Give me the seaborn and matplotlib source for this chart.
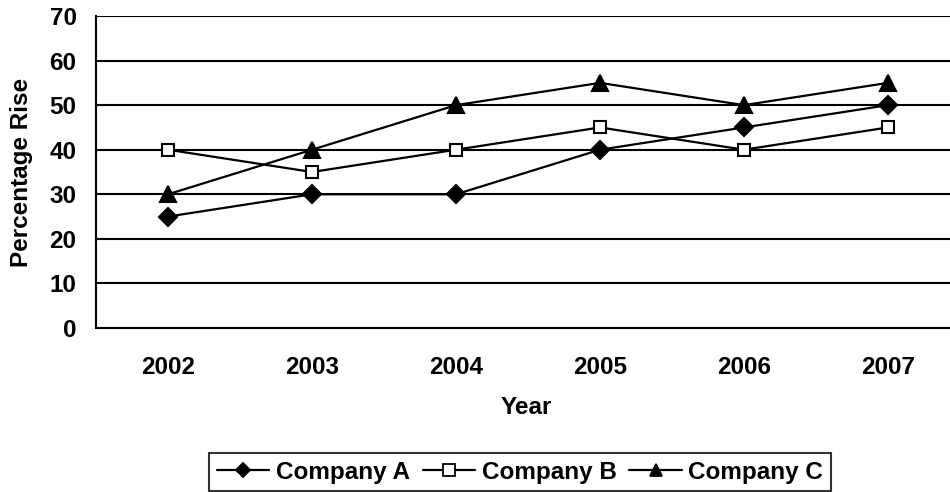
import matplotlib
matplotlib.use('Agg')
import matplotlib.pyplot as plt
import seaborn as sns
import pandas as pd

years = ['2002', '2003', '2004', '2005', '2006', '2007']
company_a = [25, 30, 30, 40, 45, 50]
company_b = [40, 35, 40, 45, 40, 45]
company_c = [30, 40, 50, 55, 50, 55]
series_names = ['Company A', 'Company B', 'Company C']

sns.set_theme(style='white')
plt.rcParams['font.family'] = ['Liberation Sans', 'DejaVu Sans']
plt.rcParams['font.weight'] = 'bold'
plt.rcParams['text.color'] = 'black'
plt.rcParams['axes.labelcolor'] = 'black'
plt.rcParams['xtick.color'] = 'black'
plt.rcParams['ytick.color'] = 'black'
FS = 17.5

df = pd.DataFrame({
    'Year': years * 3,
    'Percentage Rise': company_a + company_b + company_c,
    'Company': [n for n in series_names for _ in years],
})
df['x'] = [i for _ in series_names for i in range(len(years))]

fig = plt.figure(figsize=(9.5, 4.92), dpi=100)
ax = fig.add_axes([96 / 950, 1 - 328 / 492, 864 / 950, 312 / 492])

sns.lineplot(data=df, x='x', y='Percentage Rise', hue='Company', style='Company',
             palette=['black'] * 3, markers=['D', 's', '^'], dashes=False,
             linewidth=1.6, markeredgecolor='black', markeredgewidth=1.5,
             ax=ax, legend=False)

# marker faces / sizes per company
for line, fc, ms in zip(ax.lines, ['black', 'white', 'black'], [9, 9, 11]):
    line.set_markerfacecolor(fc)
    line.set_markersize(ms)

ax.set_ylim(0, 70)
ax.set_yticks(range(0, 71, 10))
ax.set_xlim(-0.5, len(years) - 0.5)
ax.set_xticks([i - 0.5 for i in range(len(years) + 1)])
ax.set_xticklabels([])
ax.set_xticks(range(len(years)), minor=True)
ax.set_xticklabels(years, minor=True)
ax.tick_params(axis='x', which='major', length=7, width=1.5, direction='out', color='black')
ax.tick_params(axis='x', which='minor', length=0, pad=20, labelsize=FS, labelcolor='black')
ax.tick_params(axis='y', length=8, width=1.5, direction='out', color='black', labelsize=FS,
               pad=6, labelcolor='black')
ax.yaxis.grid(True, color='black', linewidth=1.5)
ax.set_axisbelow(True)

for side in ['top', 'right']:
    ax.spines[side].set_visible(False)
for side in ['left', 'bottom']:
    ax.spines[side].set_color('black')
    ax.spines[side].set_linewidth(1.5)

ax.set_xlabel('Year', fontsize=FS, fontweight='bold', color='black')
ax.xaxis.set_label_coords((526 - 96) / 864, (328 - 408) / 312)
ax.xaxis.label.set_va('center')
ax.set_ylabel('Percentage Rise', fontsize=FS, fontweight='bold', color='black')
ax.yaxis.set_label_coords((22 - 96) / 864, 0.5)
ax.yaxis.label.set_va('center')

handles = [plt.Line2D([], [], color='black', linewidth=1.6, marker=m, markersize=s,
                      markerfacecolor=fc, markeredgecolor='black', markeredgewidth=1.3)
           for m, s, fc in zip(['D', 's', '^'], [7, 8, 9], ['black', 'white', 'black'])]
leg = fig.legend(handles, series_names, loc='center', bbox_to_anchor=(520 / 950, 1 - 472 / 492),
                 ncol=3, frameon=True, fancybox=False, edgecolor='black',
                 prop={'weight': 'bold', 'size': FS}, handlelength=2.15, handletextpad=0.28,
                 columnspacing=0.53, borderpad=0.3, borderaxespad=0, labelcolor='black')
leg.get_frame().set_linewidth(1.5)

fig.savefig('out.png', dpi=100)
